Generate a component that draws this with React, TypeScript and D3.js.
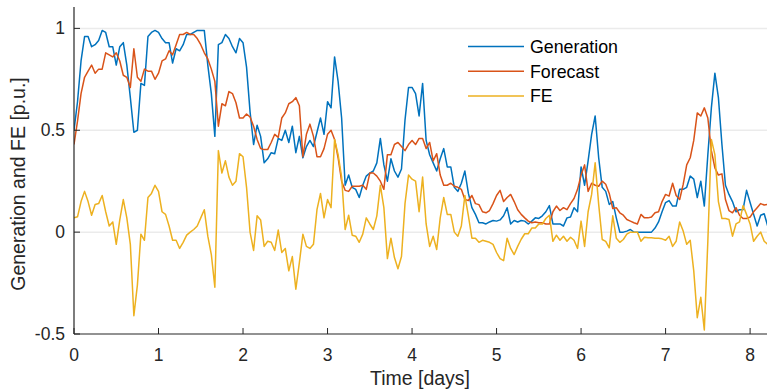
import React from "react";
import * as d3 from "d3";

// Hourly samples (index = hour from start)
const generation = [
  0.50, 0.64, 0.84, 0.96, 0.96, 0.91, 0.92, 0.94, 0.99, 0.98, 0.91, 0.91, 0.82, 0.91, 0.93, 0.82, 0.66, 0.49, 0.50, 0.73, 0.72, 0.96, 0.98, 0.99, 0.98, 0.95, 0.93, 0.93,
  0.83, 0.90, 0.89, 0.92, 0.97, 0.97, 0.98, 0.99, 0.99, 0.99, 0.82, 0.68, 0.47, 0.92, 0.93, 0.97, 0.95, 0.91, 0.88, 0.95, 0.93, 0.81, 0.59, 0.43, 0.525, 0.47, 0.34, 0.36,
  0.39, 0.385, 0.46, 0.45, 0.50, 0.44, 0.52, 0.39, 0.47, 0.365, 0.42, 0.45, 0.42, 0.49, 0.56, 0.48, 0.64, 0.61, 0.86, 0.74, 0.56, 0.23, 0.28, 0.22, 0.21, 0.17, 0.23, 0.275,
  0.29, 0.30, 0.34, 0.46, 0.33, 0.25, 0.36, 0.30, 0.27, 0.31, 0.55, 0.71, 0.71, 0.68, 0.57, 0.73, 0.45, 0.38, 0.34, 0.30, 0.36, 0.41, 0.32, 0.32, 0.22, 0.20, 0.24, 0.30,
  0.19, 0.12, 0.087, 0.046, 0.046, 0.04, 0.05, 0.057, 0.054, 0.06, 0.08, 0.12, 0.04, 0.057, 0.05, 0.057, 0.054, 0.04, 0.054, 0.07, 0.067, 0.08, 0.10, 0.13, 0.04, 0.04, 0.04,
  0.03, 0.07, 0.074, 0.12, 0.10, 0.32, 0.23, 0.35, 0.48, 0.57, 0.365, 0.22, 0.20, 0.136, 0.15, 0.07, 0.0, 0.0, 0.005, 0.013, 0.0, 0.0, 0.0, 0.0, 0.0, 0.0, 0.02, 0.05,
  0.10, 0.145, 0.155, 0.128, 0.128, 0.21, 0.21, 0.22, 0.275, 0.26, 0.17, 0.25, 0.128, 0.38, 0.61, 0.78, 0.66, 0.43, 0.23, 0.185, 0.15, 0.10, 0.11, 0.11, 0.205, 0.145, 0.087, 0.03, 0.083, 0.09, 0.03,
];

const forecast = [
  0.43, 0.545, 0.68, 0.76, 0.79, 0.82, 0.78, 0.80, 0.80, 0.88, 0.87, 0.86, 0.88, 0.84, 0.77, 0.76, 0.71, 0.90, 0.76, 0.74, 0.80, 0.79, 0.79, 0.75, 0.78, 0.84, 0.85, 0.89,
  0.87, 0.92, 0.97, 0.97, 0.98, 0.97, 0.97, 0.95, 0.92, 0.88, 0.85, 0.80, 0.74, 0.52, 0.63, 0.62, 0.69, 0.68, 0.635, 0.56, 0.56, 0.58, 0.565, 0.52, 0.455, 0.41, 0.405, 0.405,
  0.44, 0.48, 0.465, 0.56, 0.585, 0.63, 0.64, 0.66, 0.62, 0.37, 0.48, 0.53, 0.47, 0.37, 0.37, 0.41, 0.48, 0.50, 0.455, 0.365, 0.25, 0.205, 0.20, 0.225, 0.225, 0.225, 0.23, 0.21,
  0.29, 0.29, 0.275, 0.25, 0.21, 0.38, 0.38, 0.43, 0.44, 0.42, 0.40, 0.43, 0.45, 0.43, 0.46, 0.46, 0.41, 0.44, 0.35, 0.385, 0.28, 0.23, 0.23, 0.24, 0.225, 0.22, 0.21, 0.16,
  0.155, 0.18, 0.14, 0.135, 0.10, 0.095, 0.106, 0.14, 0.18, 0.205, 0.15, 0.17, 0.185, 0.15, 0.11, 0.087, 0.07, 0.054, 0.046, 0.05, 0.046, 0.046, 0.04, 0.04, 0.10, 0.128, 0.106,
  0.12, 0.11, 0.14, 0.165, 0.21, 0.28, 0.33, 0.20, 0.24, 0.23, 0.225, 0.25, 0.235, 0.19, 0.116, 0.12, 0.095, 0.083, 0.062, 0.054, 0.046, 0.04, 0.087, 0.07, 0.07, 0.074, 0.095, 0.10,
  0.15, 0.185, 0.177, 0.24, 0.18, 0.16, 0.234, 0.33, 0.365, 0.45, 0.585, 0.57, 0.61, 0.56, 0.40, 0.315, 0.28, 0.286, 0.16, 0.106, 0.095, 0.12, 0.083, 0.067, 0.067, 0.074, 0.10, 0.12, 0.14, 0.133, 0.136,
];

const forecastError = [
  0.07, 0.075, 0.15, 0.20, 0.15, 0.083, 0.136, 0.14, 0.18, 0.10, 0.03, 0.05, -0.06, 0.06, 0.16, 0.07, -0.06, -0.41, -0.26, -0.01, -0.04, 0.17, 0.19, 0.23, 0.20, 0.10, 0.087, 0.03,
  -0.04, -0.04, -0.08, -0.05, -0.015, 0.0, 0.013, 0.03, 0.07, 0.11, -0.02, -0.11, -0.27, 0.40, 0.29, 0.35, 0.27, 0.23, 0.25, 0.385, 0.37, 0.22, 0.0, -0.09, 0.08, 0.06, -0.07, -0.045,
  -0.05, -0.09, 0.01, -0.10, -0.08, -0.19, -0.12, -0.28, -0.15, -0.01, -0.07, -0.08, -0.06, 0.11, 0.19, 0.07, 0.16, 0.12, 0.455, 0.38, 0.27, 0.013, 0.083, -0.015, -0.02, -0.05, -0.01, 0.07,
  0.04, 0.013, 0.08, 0.23, 0.12, -0.13, -0.03, -0.125, -0.18, -0.12, 0.14, 0.28, 0.26, 0.25, 0.10, 0.27, 0.04, -0.07, -0.02, -0.085, 0.07, 0.17, 0.087, 0.087, 0.0, -0.02, 0.03, 0.18,
  0.08, -0.03, -0.03, -0.05, -0.04, -0.045, -0.05, -0.06, -0.10, -0.13, -0.14, -0.03, -0.08, -0.11, -0.07, -0.035, -0.008, -0.008, 0.02, 0.02, 0.04, 0.04, 0.067, 0.083, -0.045, -0.015, -0.04,
  -0.02, -0.045, -0.025, -0.04, -0.08, 0.054, -0.07, 0.10, 0.185, 0.34, 0.136, -0.036, -0.045, -0.077, 0.08, -0.03, -0.05, -0.036, -0.01, 0.0, 0.0, 0.0, -0.045, -0.025, -0.028, -0.028, -0.03, -0.03,
  -0.033, -0.04, -0.02, -0.07, -0.045, 0.05, 0.005, -0.06, -0.04, -0.19, -0.42, -0.32, -0.48, -0.045, 0.455, 0.38, 0.15, 0.067, 0.067, 0.062, -0.02, 0.04, 0.05, 0.13, 0.087, 0.04, -0.045, -0.02, 0.0, -0.045, -0.06,
];

const xTicks = [0, 1, 2, 3, 4, 5, 6, 7, 8];
const yTicks = [-0.5, 0, 0.5, 1];
const gridValues = [0, 0.5, 1];

const seriesNames = ["Generation", "Forecast", "FE"];
const seriesColors = ["#0072BD", "#D95319", "#EDB120"];

const W = 767;
const H = 391;
const FONT = "'Liberation Sans', Arial, Helvetica, sans-serif";
const AXIS = "#262626";

export default function App() {
  const left = 74;
  const right = 767;
  const top = 8;
  const bottom = 334;

  const x = d3.scaleLinear().domain([0, 8.2]).range([left, right]);
  const y = d3.scaleLinear().domain([-0.5, 1.1]).range([bottom, top]);

  const line = d3
    .line<number>()
    .x((_, i) => x(i / 24))
    .y((d) => y(d));

  const series = [generation, forecast, forecastError];

  return (
    <svg
      width={W}
      height={H}
      style={{ position: "absolute", left: 0, top: 0, background: "#fff" }}
      fontFamily={FONT}
    >
      <defs>
        <clipPath id="plot-clip">
          <rect x={left} y={top} width={right - left} height={bottom - top} />
        </clipPath>
      </defs>

      {/* horizontal grid */}
      {gridValues.map((v) => (
        <line key={v} x1={left} x2={right} y1={y(v)} y2={y(v)} stroke="#ebebeb" strokeWidth={1.5} />
      ))}

      {/* data lines */}
      <g clipPath="url(#plot-clip)">
        {series.map((s, k) => (
          <path key={k} d={line(s) || ""} fill="none" stroke={seriesColors[k]} strokeWidth={1.5} strokeLinejoin="round" />
        ))}
      </g>

      {/* axes */}
      <line x1={left} x2={left} y1={top - 1} y2={bottom} stroke={AXIS} strokeWidth={1.2} />
      <line x1={left} x2={right} y1={bottom} y2={bottom} stroke={AXIS} strokeWidth={1.2} />

      {xTicks.map((t) => (
        <g key={t}>
          <line x1={x(t)} x2={x(t)} y1={bottom} y2={bottom - 6} stroke={AXIS} strokeWidth={1} />
          <text x={x(t)} y={361} textAnchor="middle" fontSize={17.5} fill={AXIS}>
            {t}
          </text>
        </g>
      ))}

      {yTicks.map((t) => (
        <g key={t}>
          <line x1={left} x2={left + 6} y1={y(t)} y2={y(t)} stroke={AXIS} strokeWidth={1} />
          <text x={left - 9} y={y(t) + 6} textAnchor="end" fontSize={17.5} fill={AXIS}>
            {t === -0.5 ? "-0.5" : t}
          </text>
        </g>
      ))}

      {/* axis titles */}
      <text x={(left + right) / 2 - 0.5} y={385} textAnchor="middle" fontSize={19.5} fill={AXIS}>
        Time [days]
      </text>
      <text transform="translate(25,184) rotate(-90)" textAnchor="middle" fontSize={19.5} fill={AXIS}>
        Generation and FE [p.u.]
      </text>

      {/* legend */}
      {seriesNames.map((name, k) => {
        const ly = 46.5 + k * 24.7;
        return (
          <g key={name}>
            <line x1={468} x2={524} y1={ly} y2={ly} stroke={seriesColors[k]} strokeWidth={1.5} />
            <text x={530} y={ly + 6.3} fontSize={17.8} fill="#000">
              {name}
            </text>
          </g>
        );
      })}
    </svg>
  );
}
